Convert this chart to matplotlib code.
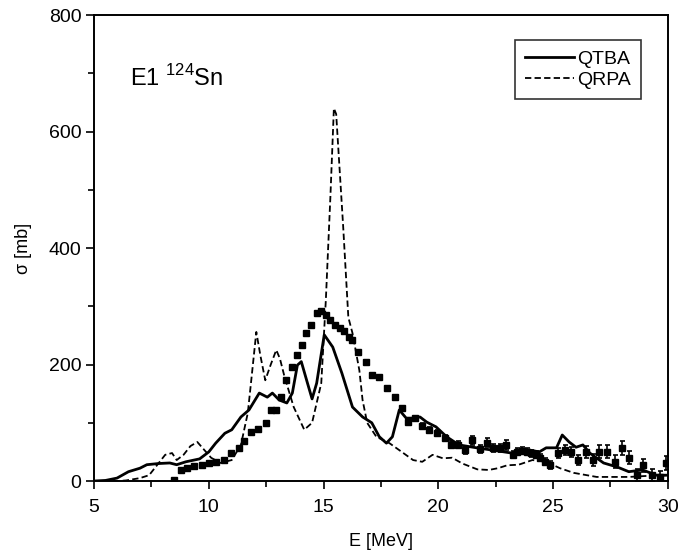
#!/usr/bin/env python3
"""
E1 photoabsorption cross section of 124Sn: QTBA and QRPA vs experimental data.
"""
import matplotlib
matplotlib.use('Agg')
import matplotlib.pyplot as plt
import numpy as np

plt.rcParams['font.family'] = ['Liberation Sans', 'DejaVu Sans']
plt.rcParams['mathtext.fontset'] = 'custom'
plt.rcParams['mathtext.rm'] = 'Liberation Sans'

# QRPA (dashed)
qrpa_E = [5, 6.0, 6.4, 7.0, 7.4, 7.8, 8.1, 8.4, 8.6, 8.9, 9.2, 9.5, 9.7, 10.1, 10.5,
          11.0, 11.4, 11.7, 11.85, 12.07, 12.25, 12.46, 12.7, 12.94, 13.1, 13.3, 13.7,
          14.16, 14.5, 14.9, 15.1, 15.3, 15.45, 15.55, 15.85, 16.08, 16.26, 16.56, 16.7,
          16.9, 17.3, 17.87, 18.3, 18.9, 19.3, 19.75, 20.2, 20.6, 21.05, 21.7, 22.2,
          22.6, 23.0, 23.5, 24.1, 24.7, 25.3, 25.9, 26.9, 28.3, 29.2, 30]
qrpa_s = [0, 0, 1, 5, 10, 30, 45, 48, 36, 45, 60, 67, 58, 40, 31,
          36, 62, 117, 173, 256, 215, 173, 200, 225, 210, 179, 127,
          88, 100, 168, 311, 490, 640, 630, 440, 281, 254, 190, 139,
          100, 76, 65, 53, 36, 33, 45, 39, 40, 30, 20, 19,
          22, 27, 28, 36, 33, 22, 14, 7, 7, 9, 10]

# QTBA (solid)
qtba_E = [5, 5.5, 6.0, 6.5, 7.0, 7.3, 7.8, 8.3, 8.6, 9.0, 9.6, 10.0, 10.3, 10.7, 11.0,
          11.4, 11.75, 12.2, 12.55, 12.77, 13.07, 13.4, 13.64, 13.86, 14.03, 14.3, 14.5,
          14.7, 15.03, 15.4, 15.8, 16.26, 16.7, 17.1, 17.43, 17.74, 18.0, 18.3, 18.6,
          18.9, 19.2, 19.5, 19.9, 20.36, 20.9, 21.67, 22.37, 23.2, 24.0, 24.4, 24.7,
          25.15, 25.4, 25.7, 26.0, 26.3, 26.6, 27.2, 27.8, 28.3, 28.9, 29.5, 30]
qtba_s = [0, 1, 5, 16, 22, 28, 30, 31, 28, 33, 38, 50, 65, 82, 88,
          110, 122, 151, 144, 151, 139, 134, 151, 199, 205, 168, 141,
          168, 251, 230, 185, 127, 110, 100, 76, 65, 76, 122, 108,
          108, 110, 101, 93, 76, 62, 57, 53, 48, 53, 50, 57,
          57, 79, 67, 58, 62, 48, 31, 24, 16, 19, 10, 10]

# experiment (squares with error bars)
exp_E = [8.5, 8.8, 9.06, 9.36, 9.7, 10.0, 10.3, 10.67, 10.98, 11.3,
         11.55, 11.85, 12.15, 12.5, 12.72, 12.94, 13.16, 13.38, 13.64, 13.86,
         14.08, 14.25, 14.47, 14.7, 14.9, 15.1, 15.3, 15.5, 15.7, 15.9,
         16.1, 16.25, 16.5, 16.86, 17.13, 17.43, 17.78, 18.1, 18.4, 18.7,
         19.0, 19.3, 19.6, 19.95, 20.27, 20.55, 20.85, 21.15, 21.45, 21.8,
         22.1, 22.4, 22.67, 22.97, 23.25, 23.45, 23.65, 23.85, 24.05, 24.25,
         24.45, 24.65, 24.85, 25.2, 25.5, 25.8, 26.1, 26.45, 26.75, 27.0,
         27.35, 27.7, 28.0, 28.3, 28.65, 28.9, 29.3, 29.65, 29.9]
exp_s = [2, 19, 23, 26, 28, 31, 33, 36, 48, 57,
         68, 84, 90, 100, 122, 122, 144, 173, 196, 216,
         233, 254, 268, 288, 292, 285, 276, 268, 262, 257,
         247, 242, 221, 204, 182, 178, 160, 144, 125, 101,
         108, 94, 88, 82, 74, 62, 62, 53, 70, 55,
         66, 57, 57, 62, 45, 50, 52, 50, 48, 45,
         40, 33, 28, 48, 53, 50, 36, 50, 36, 50,
         50, 33, 57, 40, 10, 27, 10, 7, 31]
exp_err = [2, 2, 2, 2, 2, 2, 2, 2, 3, 3,
           3, 3, 3, 3, 3, 3, 3, 3, 3, 3,
           3, 3, 3, 3, 3, 3, 3, 3, 3, 3,
           3, 3, 3, 3, 3, 3, 3, 3, 4, 4,
           4, 5, 5, 5, 5, 6, 6, 7, 8, 7,
           8, 7, 7, 8, 6, 6, 6, 6, 6, 6,
           6, 6, 7, 8, 9, 8, 9, 10, 10, 11,
           11, 11, 12, 11, 10, 11, 10, 10, 12]

fig = plt.figure(figsize=(6.78, 5.59), dpi=100)
ax = fig.add_axes([0.1387, 0.1395, 0.8463, 0.8335])

ax.errorbar(exp_E, exp_s, yerr=exp_err, fmt='s', color='black', markersize=4.3,
            elinewidth=1.2, capsize=1.8, capthick=1.2, zorder=3)
ax.plot(qtba_E, qtba_s, color='black', linewidth=2.0, label='QTBA')
ax.plot(qrpa_E, qrpa_s, color='black', linewidth=1.3, linestyle=(0, (3.5, 1.8)),
        label='QRPA')

ax.set_xlim(5, 30)
ax.set_ylim(0, 800)
ax.set_xticks([5, 10, 15, 20, 25, 30])
ax.set_xticks(np.arange(7.5, 30, 5), minor=True)
ax.set_yticks([0, 200, 400, 600, 800])
ax.set_yticks([100, 300, 500, 700], minor=True)
ax.tick_params(which='both', direction='out', top=False, right=False,
               width=1.2, labelsize=14)
ax.tick_params(which='major', length=6)
ax.tick_params(which='minor', length=4)
ax.tick_params(axis='x', which='both', pad=7)
ax.tick_params(axis='y', which='both', pad=3)
for sp in ax.spines.values():
    sp.set_linewidth(1.4)

ax.set_xlabel('E [MeV]', fontsize=13, labelpad=12)
ax.set_ylabel('σ [mb]', fontsize=13, labelpad=12)

ax.text(0.063, 0.865, r'E1 $^{\mathrm{124}}$Sn', transform=ax.transAxes,
        fontsize=17, va='center', ha='left')

leg = ax.legend(loc='upper right', bbox_to_anchor=(0.953, 0.946), fontsize=14,
                frameon=True, fancybox=False, handlelength=2.5,
                handletextpad=0.2, borderpad=0.5, labelspacing=0.2,
                borderaxespad=0)
leg.get_frame().set_edgecolor('black')
leg.get_frame().set_linewidth(1.2)

plt.savefig('out.png', dpi=100)
